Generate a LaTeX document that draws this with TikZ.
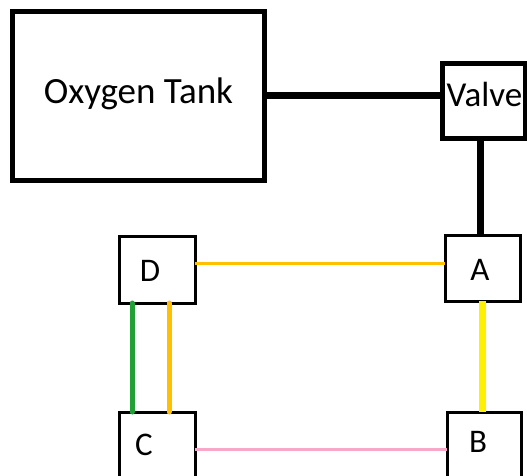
\documentclass[tikz,border=0pt]{standalone}
\usepackage{fontspec}
\setmainfont{Carlito}
\definecolor{linkorange}{HTML}{FFC000}
\definecolor{linkyellow}{HTML}{FFF000}
\definecolor{linkgreen}{HTML}{21A038}
\definecolor{linkpink}{HTML}{F7A8C8}
\begin{document}
\begin{tikzpicture}[x=1pt,y=-1pt,
  bigbox/.style={draw=black,line width=5pt,fill=white,rectangle,inner sep=0pt,outer sep=0pt},
  smallbox/.style={draw=black,line width=3pt,fill=white,rectangle,inner sep=0pt,outer sep=0pt,minimum width=76pt,minimum height=67pt},
  boxtext/.style={anchor=base,inner sep=0pt,font=\fontsize{33}{36}\selectfont},
  pipe/.style={line width=7pt,draw=black},
  link/.style={line width=#1}
]
\useasboundingbox (0,0) rectangle (527,476);
\clip (0,0) rectangle (527,476);
% boxes
\node[bigbox,minimum width=252pt,minimum height=168pt] (tank) at (138,96) {};
\node[bigbox,minimum width=83pt,minimum height=74pt] (valve) at (483.5,101) {};
\node[smallbox,minimum width=75pt,minimum height=66pt] (A) at (482.5,268) {};
\node[smallbox] (D) at (157,269.5) {};
\node[smallbox,minimum width=74pt] (B) at (484,445.5) {};
\node[smallbox] (C) at (157,445.5) {};
% texts
\node[boxtext,font=\fontsize{37}{40}\selectfont] (tanktext) at (138.5,103) {Oxygen Tank};
\node[boxtext,font=\fontsize{35}{38}\selectfont] (valvetext) at (484.5,107) {Valve};
\node[boxtext] (Atext) at (480,280) {A};
\node[boxtext] (Dtext) at (150,281) {D};
\node[boxtext] (Ctext) at (144,455) {C};
\node[boxtext] (Btext) at (478,452) {B};
% connectors
\draw[pipe] (tank.east) -- (tank.east -| valve.west);
\draw[line width=7pt] ([xshift=-2.5pt]A.north |- valve.south) -- ([xshift=-2.5pt]A.north);
\draw[link=3pt,linkorange] ([yshift=6.5pt]D.east) -- ([yshift=6.5pt]D.east -| A.west);
\draw[link=7pt,linkyellow] (A.south) -- (A.south |- B.north);
\draw[link=5pt,linkgreen,line cap=round] ([xshift=13pt]D.south west) -- ([xshift=13pt]C.north west);
\draw[link=5pt,linkorange,line cap=round] ([xshift=50pt]D.south west) -- ([xshift=50pt]C.north west);
\draw[link=3pt,linkpink] ([yshift=-3.5pt]C.east) -- ([yshift=-3.5pt]C.east -| B.west);
\end{tikzpicture}
\end{document}
